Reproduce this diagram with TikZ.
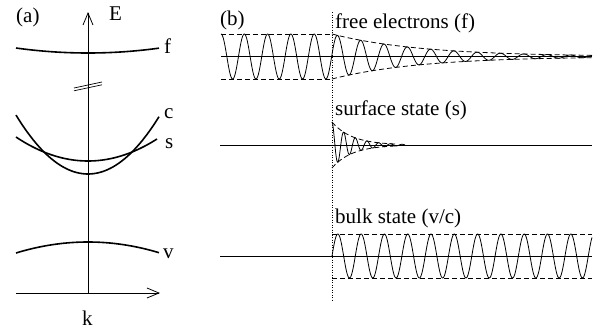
\documentclass[tikz,border=0pt]{standalone}
\usepackage{fontspec}
\setmainfont{Liberation Serif}
\usetikzlibrary{arrows.meta}
\begin{document}
\begin{tikzpicture}[x=1pt,y=-1pt,
  band/.style={line width=1.6pt},
  axis/.style={line width=0.8pt,-{Straight Barb[length=12pt,width=10pt]}},
  wave/.style={line width=0.8pt},
  env/.style={line width=0.8pt,dash pattern=on 5pt off 3pt},
  vdot/.style={line width=0.9pt,dash pattern=on 1pt off 1.5pt},
  lbl/.style={font=\fontsize{21}{25}\selectfont,inner sep=0pt,anchor=base west},
]
\useasboundingbox (0,0) rectangle (598,332);

% ---------- panel (a) ----------
\coordinate (o) at (88,293);
\coordinate (kstart) at (16,293);
\coordinate (kend) at (160,293);
\coordinate (eend) at (88,12);
\draw[axis] (kstart) -- (kend);
\draw[axis] (o) -- (eend);
% axis break
\draw[line width=0.7pt] (74,88) -- (102,82);
\draw[line width=0.7pt] (74,90.8) -- (102,84.8);
% bands
\draw[band] plot[domain=16:159,samples=60] (\x,{53-5/5184*(\x-88)^2});
\draw[band] plot[domain=16:159,samples=60] (\x,{174-59/5184*(\x-88)^2});
\draw[band] plot[domain=16:157,samples=60] (\x,{161-24/5184*(\x-88)^2});
\draw[band] plot[domain=16:159,samples=60] (\x,{242+11/5184*(\x-88)^2});
\node[lbl] (la) at (16,22) {(a)};
\node[lbl] (lE) at (109,20) {E};
\node[lbl] (lk) at (82,325) {k};
\node[lbl] (lf) at (164,53) {f};
\node[lbl] (lc) at (164,118) {c};
\node[lbl] (ls) at (165,148) {s};
\node[lbl] (lv) at (163,258) {v};

% ---------- panel (b) ----------
\coordinate (dtop) at (332,12);
\coordinate (dbot) at (332,300);
\draw[vdot] (dtop) -- (dbot);
\node[lbl] (lb) at (220,25) {(b)};
\node[lbl] (tf) at (335,28) {free electrons (f)};
\node[lbl] (ts) at (335,115) {surface state (s)};
\node[lbl] (tb) at (335,223) {bulk state (v/c)};

% free electrons
\draw[wave] (221,56.5) -- (592,56.5);
\draw[env] (221,34) -- (332,34);
\draw[env] (221,79) -- (332,79);
\draw[wave] plot[domain=221:332,samples=200] (\x,{56.5-22.5*cos(15.451*(\x-221))});
\draw[wave] plot[domain=332:592,samples=500] (\x,{56.5-22.5*exp(-(\x-332)/88)*cos(15.451*(\x-221))});
\draw[env] plot[domain=332:592,samples=80] (\x,{56.5-22.5*exp(-(\x-332)/88)});
\draw[env] plot[domain=332:592,samples=80] (\x,{56.5+22.5*exp(-(\x-332)/88)});

% surface state
\draw[wave] (220,145) -- (592,145);
\draw[wave] plot[domain=332:405,samples=300] (\x,{145-23*exp(-(\x-332)/20)*cos(30.77*(\x-332))});
\draw[env] plot[domain=332:398,samples=60] (\x,{145-23*exp(-(\x-332)/20)});
\draw[env] plot[domain=332:398,samples=60] (\x,{145+23*exp(-(\x-332)/20)});

% bulk state
\draw[wave] (220,256) -- (592,256);
\draw[env] (332,234) -- (592,234);
\draw[env] (332,278) -- (592,278);
\draw[wave] plot[domain=332:592,samples=500] (\x,{256-22*sin(15.451*(\x-332))});
\end{tikzpicture}
\end{document}
